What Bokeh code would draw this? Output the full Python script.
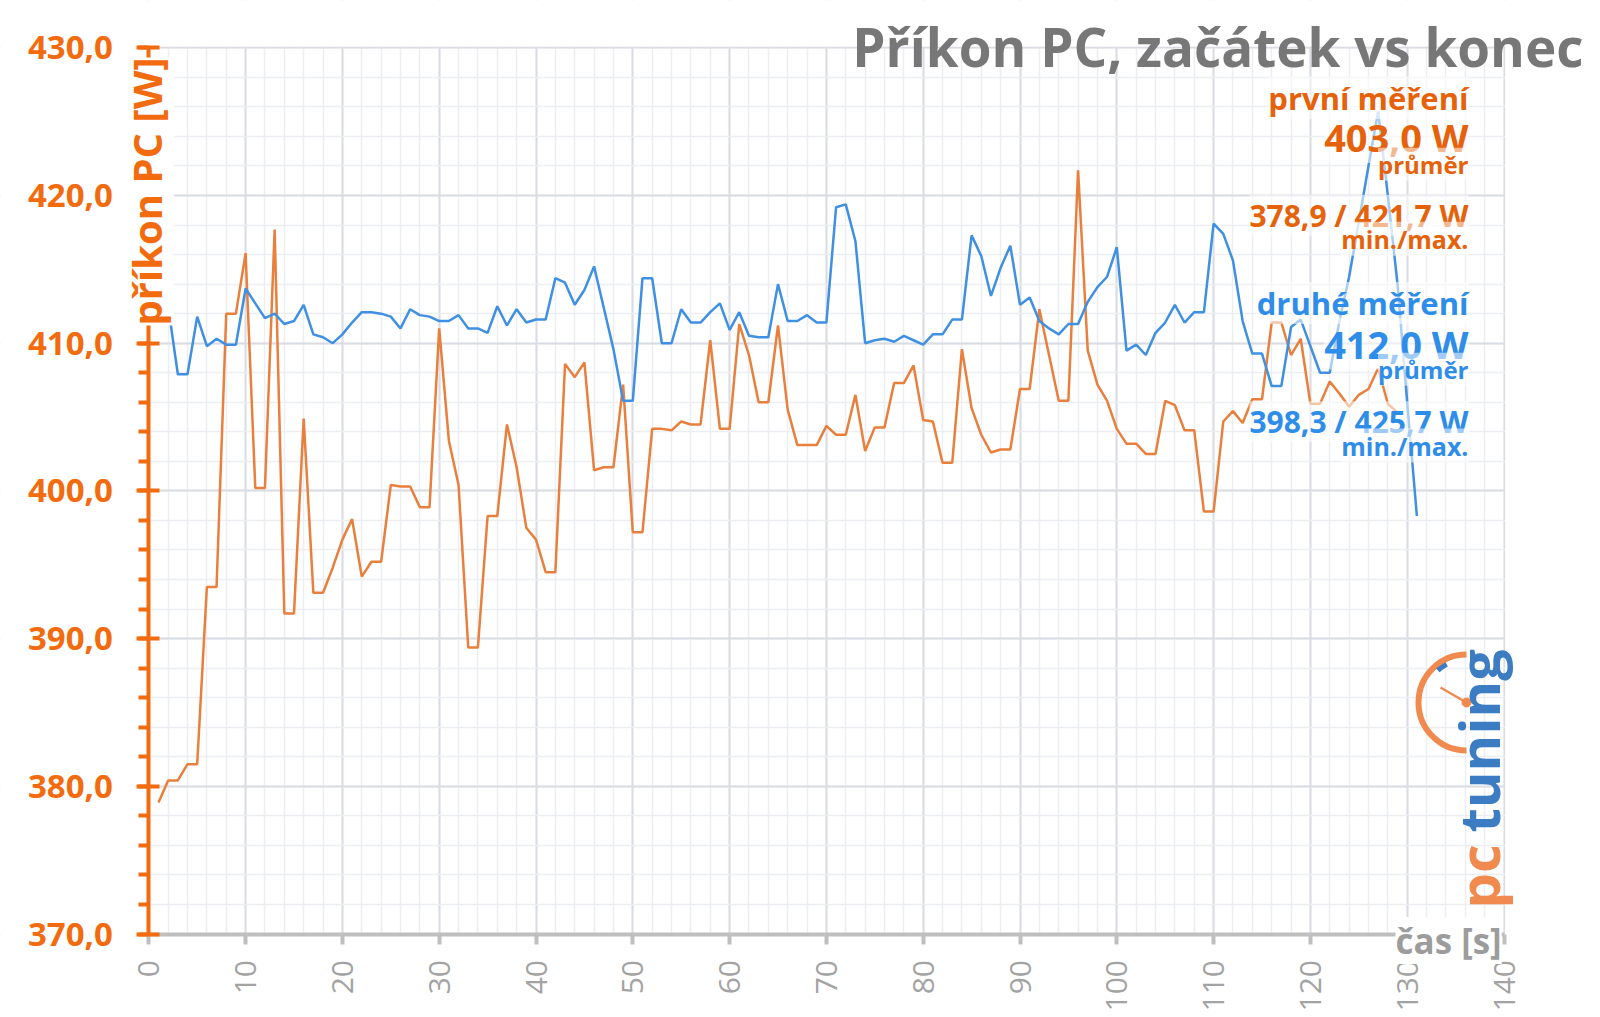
from math import pi
from bokeh.plotting import figure
from bokeh.models import (Range1d, SingleIntervalTicker, CustomJSTickFormatter, Label,
                          BoxAnnotation)
from bokeh.embed import file_html
from bokeh.resources import INLINE

# ---- data ----
time_first = list(range(1, 130))
power_first = [
    378.9, 380.4, 380.4, 381.5, 381.5, 393.5, 393.5, 412.0, 412.0, 416.1,
    400.2, 400.2, 417.7, 391.7, 391.7, 404.9, 393.1, 393.1, 394.8, 396.7,
    398.1, 394.2, 395.2, 395.2, 400.4, 400.3, 400.3, 398.9, 398.9, 411.0,
    403.4, 400.4, 389.4, 389.4, 398.3, 398.3, 404.5, 401.6, 397.5, 396.7,
    394.5, 394.5, 408.6, 407.7, 408.7, 401.4, 401.6, 401.6, 407.2, 397.2,
    397.2, 404.2, 404.2, 404.1, 404.7, 404.5, 404.5, 410.2, 404.2, 404.2,
    411.3, 409.2, 406.0, 406.0, 411.2, 405.5, 403.1, 403.1, 403.1, 404.4,
    403.8, 403.8, 406.5, 402.7, 404.3, 404.3, 407.3, 407.3, 408.5, 404.8,
    404.7, 401.9, 401.9, 409.6, 405.6, 403.8, 402.6, 402.8, 402.8, 406.9,
    406.9, 412.3, 409.2, 406.1, 406.1, 421.7, 409.5, 407.2, 406.1, 404.2,
    403.2, 403.2, 402.5, 402.5, 406.1, 405.8, 404.1, 404.1, 398.6, 398.6,
    404.7, 405.4, 404.6, 406.2, 406.2, 411.4, 411.4, 409.2, 410.3, 405.9,
    405.9, 407.4, 406.6, 405.7, 406.5, 406.9, 408.3, 405.9, 405.3,
]
time_second = list(range(1, 132))
power_second = [
    413.4, 412.5, 407.9, 407.9, 411.8, 409.8, 410.3, 409.9, 409.9, 413.7,
    412.7, 411.7, 412.0, 411.3, 411.5, 412.6, 410.6, 410.4, 410.0, 410.6,
    411.4, 412.1, 412.1, 412.0, 411.8, 411.0, 412.3, 411.9, 411.8, 411.5,
    411.5, 411.9, 411.0, 411.0, 410.7, 412.5, 411.2, 412.3, 411.4, 411.6,
    411.6, 414.4, 414.1, 412.6, 413.6, 415.2, 412.4, 409.6, 406.1, 406.1,
    414.4, 414.4, 410.0, 410.0, 412.3, 411.4, 411.4, 412.1, 412.7, 410.9,
    412.1, 410.5, 410.4, 410.4, 414.0, 411.5, 411.5, 411.9, 411.4, 411.4,
    419.2, 419.4, 416.9, 410.0, 410.2, 410.3, 410.1, 410.5, 410.2, 409.9,
    410.6, 410.6, 411.6, 411.6, 417.3, 415.9, 413.2, 415.1, 416.6, 412.6,
    413.1, 411.5, 411.0, 410.6, 411.3, 411.3, 412.8, 413.8, 414.5, 416.5,
    409.5, 409.9, 409.2, 410.7, 411.4, 412.6, 411.4, 412.1, 412.1, 418.1,
    417.4, 415.6, 411.5, 409.3, 409.3, 407.1, 407.1, 411.1, 411.6, 409.8,
    408.0, 408.0, 411.5, 414.5, 418.2, 422.0, 425.7, 420.0, 414.0, 406.0,
    398.3,
]
x_start, x_end, x_step = 0, 140, 10
y_start, y_end, y_step = 370, 430, 10

title_text = "Příkon PC, začátek vs konec"
y_label = "příkon PC [W]"
x_label = "čas [s]"
first_lines = ["první měření", "403,0 W", "průměr", "378,9 / 421,7 W", "min./max."]
second_lines = ["druhé měření", "412,0 W", "průměr", "398,3 / 425,7 W", "min./max."]

# ---- colours ----
ORANGE_AX = "#F26B0F"
ORANGE_TXT = "#E5620B"
ORANGE_LINE = "#E97F3C"
BLUE_LINE = "#3F8FE2"
BLUE_TXT = "#2F8DEA"
GRAY_AX = "#BFBFBF"
FONT = "Open Sans"

W, H = 1600, 1017
X0_PX, PX_PER_S = 148.3, 9.68      # pixel of t=0, pixels per second
Y430_PX, PX_PER_W = 47.3, 14.77    # pixel of 430 W, pixels per watt

# the frame covers the whole canvas so that every text can sit anywhere
xr = Range1d(x_start - X0_PX / PX_PER_S, x_start + (W - X0_PX) / PX_PER_S)
yr = Range1d(y_end - (H - Y430_PX) / PX_PER_W, y_end + Y430_PX / PX_PER_W)

p = figure(width=W, height=H, x_range=xr, y_range=yr,
           output_backend="svg", toolbar_location=None, title=None,
           min_border=0, min_border_left=0, min_border_right=0,
           min_border_top=0, min_border_bottom=0)
p.outline_line_color = None
p.background_fill_color = "white"
p.border_fill_color = "white"

xt = SingleIntervalTicker(interval=x_step, num_minor_ticks=5)
yt = SingleIntervalTicker(interval=y_step, num_minor_ticks=5)
p.xaxis.ticker = xt
p.yaxis.ticker = yt
p.xgrid.ticker = xt
p.ygrid.ticker = yt

for g in (p.xgrid, p.ygrid):
    g.grid_line_color = "#D9DCE3"
    g.grid_line_width = 2
    g.minor_grid_line_color = "#ECEEF2"
    g.minor_grid_line_width = 1.5
p.xgrid.bounds = (x_start, x_end)
p.ygrid.bounds = (y_start, y_end)

# mask the grid outside the data area (drawn just above the grid)
eps_x, eps_y = 1.2 / PX_PER_S, 1.2 / PX_PER_W
for kw in (dict(top=y_start), dict(bottom=y_end + eps_y),
           dict(left=x_end + eps_x), dict(right=x_start)):
    p.add_layout(BoxAnnotation(fill_color="white", fill_alpha=1.0, line_color=None,
                               level="underlay", **kw))

# x axis
xa = p.xaxis[0]
xa.fixed_location = y_start
xa.bounds = (x_start, x_end)
xa.axis_line_color = GRAY_AX
xa.axis_line_width = 4
xa.major_tick_line_color = GRAY_AX
xa.major_tick_line_width = 4
xa.major_tick_out = 10
xa.major_tick_in = 0
xa.minor_tick_line_color = None
xa.major_label_orientation = pi / 2
xa.major_label_text_font = FONT
xa.major_label_text_font_size = "30px"
xa.major_label_text_color = "#A3A3A3"
xa.major_label_standoff = 16

# y axis
ya = p.yaxis[0]
ya.fixed_location = x_start
ya.bounds = (y_start, y_end)
ya.axis_line_color = ORANGE_AX
ya.axis_line_width = 4
ya.major_tick_line_color = ORANGE_AX
ya.major_tick_line_width = 4
ya.major_tick_out = 12
ya.major_tick_in = 11
ya.minor_tick_line_color = ORANGE_AX
ya.minor_tick_line_width = 4
ya.minor_tick_out = 10
ya.minor_tick_in = 0
ya.formatter = CustomJSTickFormatter(code="return tick.toFixed(1).replace('.', ',');")
ya.major_label_text_font = FONT
ya.major_label_text_font_style = "bold"
ya.major_label_text_font_size = "33px"
ya.major_label_text_color = ORANGE_AX
ya.major_label_standoff = 24

# ---- series ----
p.line(time_first, power_first, line_color=ORANGE_LINE, line_width=2.5)
p.line(time_second, power_second, line_color=BLUE_LINE, line_width=2.5)


# ---- helpers for pixel -> data placement of decorations ----
def tx(px):
    return x_start + (px - X0_PX) / PX_PER_S


def vy(py):
    return y_end - (py - Y430_PX) / PX_PER_W


BASE_SHIFT = 0.40  # observed offset of the rendered baseline, in font sizes


def lab(text, px, py, size, color, align="right", style="bold", rotated=False,
        baseline="alphabetic", bg=None, bg_alpha=1.0):
    kw = {}
    if bg is not None:
        kw["background_fill_color"] = bg
        kw["background_fill_alpha"] = bg_alpha
    if baseline == "alphabetic":
        if rotated:
            px = px - BASE_SHIFT * size
        else:
            py = py - BASE_SHIFT * size
    p.add_layout(Label(x=tx(px), y=vy(py), text=text, text_font=FONT,
                       text_font_size=f"{size}px", text_font_style=style,
                       text_color=color, text_align=align, text_baseline=baseline,
                       angle=(pi / 2 if rotated else 0.0), **kw))


# title
lab(title_text, 1583, 67, 53, "#777777")

# stats blocks
sizes = [31, 38, 24, 30, 25]
first_y = [110, 151.7, 173.3, 226.7, 248.3]
second_y = [315, 358.3, 378.3, 433.3, 455]
for t_, y_, s_ in zip(first_lines, first_y, sizes):
    lab(t_, 1468, y_, s_, ORANGE_TXT, bg="white", bg_alpha=0.55)
for t_, y_, s_ in zip(second_lines, second_y, sizes):
    lab(t_, 1468, y_, s_, BLUE_TXT, bg="white", bg_alpha=0.55)

# axis titles
lab(y_label, 146, 325, 40, ORANGE_AX, align="left", baseline="middle",
    rotated=True, bg="white")
lab(x_label, 1395, 940, 35, "#9C9C9C", align="left", baseline="middle", bg="white")

# pctuning logo
lab("pc", 1500, 908, 56, "#F08A4E", align="left", rotated=True)
lab("tuning", 1500, 832, 56, "#3B7CC3", align="left", rotated=True)
cx, cy = tx(1466), vy(702)
p.arc(x=[cx], y=[cy], radius=48, radius_units="screen", start_angle=pi / 2,
      end_angle=3 * pi / 2, line_color="#F08A4E", line_width=6)
p.arc(x=[cx], y=[cy], radius=43, radius_units="screen", start_angle=2.05,
      end_angle=2.3, line_color="#3B7CC3", line_width=5)
p.segment(x0=[cx], y0=[cy], x1=[tx(1440)], y1=[vy(687)], line_color="#F08A4E",
          line_width=2.5)
p.scatter(x=[cx], y=[cy], size=9, color="#F08A4E")

open("out.html", "w").write(file_html(p, INLINE))
